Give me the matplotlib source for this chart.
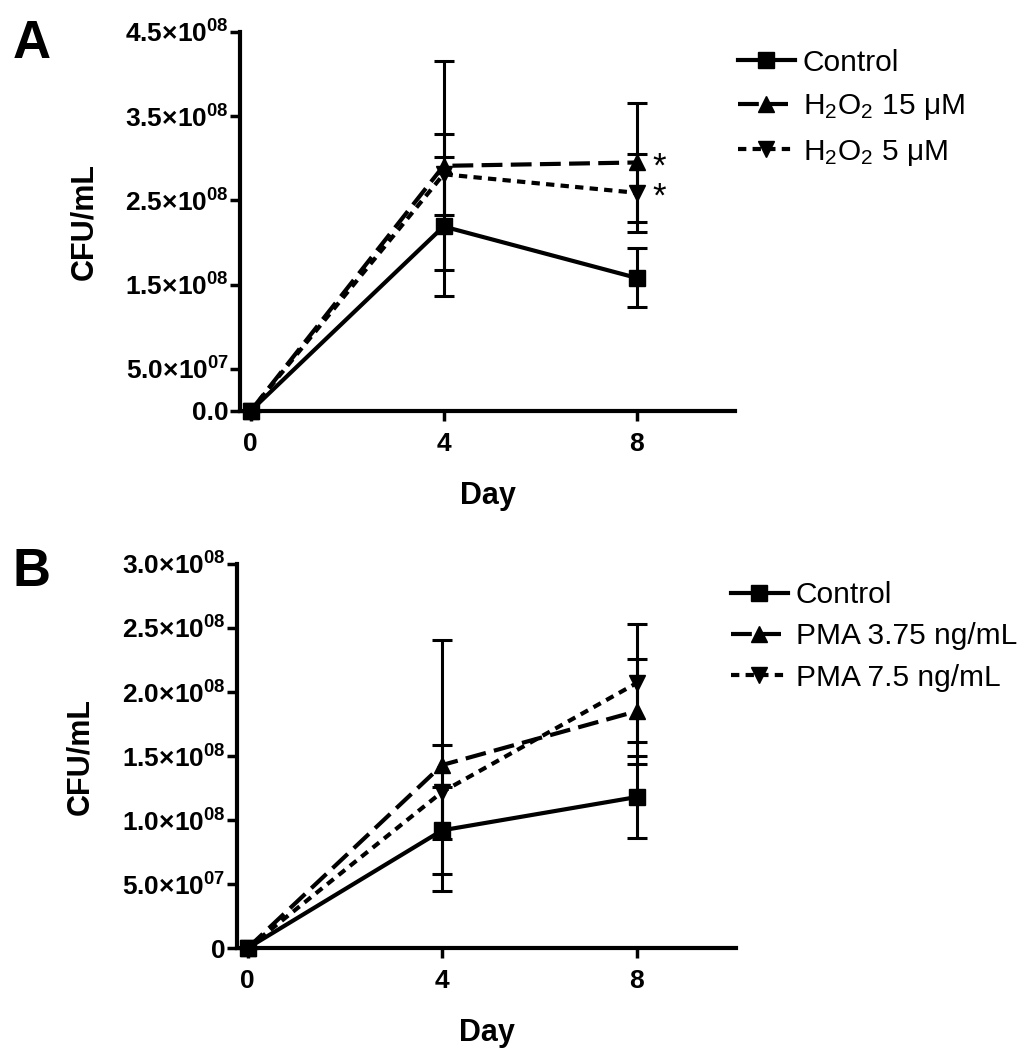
import matplotlib
matplotlib.use('Agg')
import matplotlib.pyplot as plt


plt.rcParams['font.family'] = ['Liberation Sans', 'DejaVu Sans']
plt.rcParams['mathtext.default'] = 'regular'

days = [0, 4, 8]

# Panel A
a_labels = ['Control', 'H$_2$O$_2$ 15 μM', 'H$_2$O$_2$ 5 μM']
a_control = [0, 2.19e8, 1.58e8]
a_control_err = [0, 0.83e8, 0.35e8]
a_h2o2_15 = [0, 2.91e8, 2.95e8]
a_h2o2_15_err = [0, 1.24e8, 0.71e8]
a_h2o2_5 = [0, 2.81e8, 2.59e8]
a_h2o2_5_err = [0, 0.48e8, 0.46e8]
a_yticks = [0, 5e7, 1.5e8, 2.5e8, 3.5e8, 4.5e8]
a_yticklabels = ['0.0', '5.0×10$^{07}$', '1.5×10$^{08}$', '2.5×10$^{08}$',
                 '3.5×10$^{08}$', '4.5×10$^{08}$']

# Panel B
b_labels = ['Control', 'PMA 3.75 ng/mL', 'PMA 7.5 ng/mL']
b_control = [0, 0.92e8, 1.18e8]
b_control_err = [0, 0.34e8, 0.32e8]
b_pma_375 = [0, 1.43e8, 1.85e8]
b_pma_375_err = [0, 0.98e8, 0.41e8]
b_pma_75 = [0, 1.22e8, 2.07e8]
b_pma_75_err = [0, 0.37e8, 0.46e8]
b_yticks = [0, 5e7, 1e8, 1.5e8, 2e8, 2.5e8, 3e8]
b_yticklabels = ['0', '5.0×10$^{07}$', '1.0×10$^{08}$', '1.5×10$^{08}$',
                 '2.0×10$^{08}$', '2.5×10$^{08}$', '3.0×10$^{08}$']

styles = [
    dict(marker='s', linestyle='-'),
    dict(marker='^', linestyle=(0, (5, 2))),
    dict(marker='v', linestyle=(0, (2, 1.5))),
]


def draw_panel(ax, series, errors, labels, yticks, yticklabels, ymax):
    handles = []
    for vals, errs, label, st in zip(series, errors, labels, styles):
        ax.errorbar(days, vals, yerr=errs, fmt='none', ecolor='black',
                    elinewidth=2.2, capsize=7, capthick=2.2, zorder=2)
        line, = ax.plot(days, vals, color='black', lw=3, marker=st['marker'],
                        markersize=11, linestyle=st['linestyle'],
                        label=label, zorder=3)
        handles.append(line)

    ax.set_xlim(-0.22, 10.05)
    ax.set_ylim(0, ymax)
    ax.set_xticks(days)
    ax.set_yticks(yticks)
    ax.set_yticklabels(yticklabels)
    ax.spines['top'].set_visible(False)
    ax.spines['right'].set_visible(False)
    for s in ['left', 'bottom']:
        ax.spines[s].set_linewidth(3)
    ax.tick_params(axis='both', width=2.5, length=7, labelsize=19, pad=1)
    ax.tick_params(axis='x', pad=8)
    for lab in ax.get_xticklabels() + ax.get_yticklabels():
        lab.set_fontweight('bold')
    ax.set_xlabel('Day', fontsize=22, fontweight='bold', labelpad=18)
    ax.set_ylabel('CFU/mL', fontsize=22, fontweight='bold', labelpad=19)
    for art in ax.lines + ax.collections:
        art.set_clip_on(False)
    return handles


fig = plt.figure(figsize=(10.3, 10.5), dpi=100)

ax_a = fig.add_axes([0.233, 0.6086, 0.481, 0.361])
h_a = draw_panel(ax_a, [a_control, a_h2o2_15, a_h2o2_5],
                 [a_control_err, a_h2o2_15_err, a_h2o2_5_err],
                 a_labels, a_yticks, a_yticklabels, 4.5e8)
for vals in [a_h2o2_15, a_h2o2_5]:
    ax_a.annotate('*', (days[2], vals[2]), xytext=(16, -3),
                  textcoords='offset points', fontsize=25, ha='center',
                  va='center')
fig.legend(handles=h_a, loc='upper left', bbox_to_anchor=(0.705, 0.965),
           frameon=False, fontsize=21.5, handlelength=1.9, handletextpad=0.27,
           labelspacing=0.52, borderaxespad=0)

ax_b = fig.add_axes([0.230, 0.097, 0.485, 0.3659])
h_b = draw_panel(ax_b, [b_control, b_pma_375, b_pma_75],
                 [b_control_err, b_pma_375_err, b_pma_75_err],
                 b_labels, b_yticks, b_yticklabels, 3e8)
fig.legend(handles=h_b, loc='upper left', bbox_to_anchor=(0.698, 0.458),
           frameon=False, fontsize=21.5, handlelength=1.9, handletextpad=0.27,
           labelspacing=0.45, borderaxespad=0)

fig.text(0.012, 0.958, 'A', fontsize=38, fontweight='bold', va='center')
fig.text(0.012, 0.455, 'B', fontsize=38, fontweight='bold', va='center')

plt.savefig('out.png', dpi=100)
